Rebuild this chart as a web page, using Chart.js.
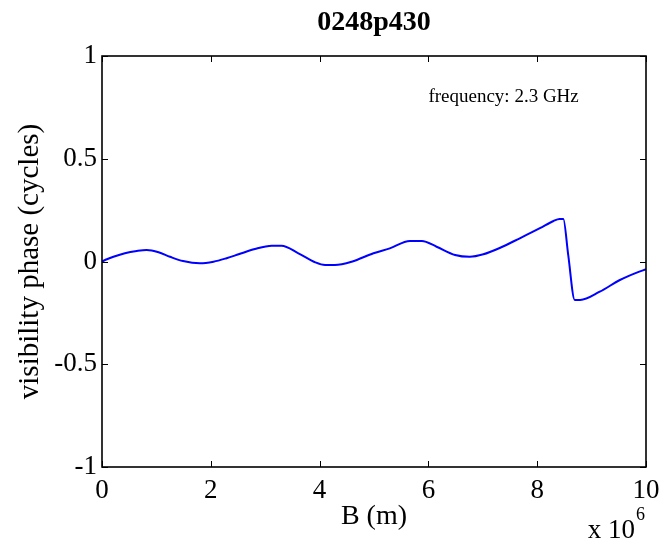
<!DOCTYPE html>
<html>
<head>
<meta charset="utf-8">
<script src="https://cdn.jsdelivr.net/npm/chart.js@4/dist/chart.umd.min.js"></script>
<style>
  html, body { margin: 0; padding: 0; background: #fff; }
  canvas { display: block; }
</style>
</head>
<body>
<canvas id="c" width="664" height="550"></canvas>
<script>
// Baseline length in units of 10^6 m
const baseline = [0, 0.09, 0.21, 0.42, 0.64, 0.82, 1.04, 1.25, 1.49, 1.80, 2.05, 2.29, 2.51, 2.81,
  3.12, 3.30, 3.61, 3.92, 4.10, 4.28, 4.59, 4.99, 5.29, 5.66, 5.88, 6.15, 6.49, 6.76, 7.01, 7.32,
  7.68, 8.05, 8.30, 8.41, 8.48, 8.57, 8.69, 8.79, 9.15, 9.52, 9.83, 10.0];
// Visibility phase in cycles
const phase = [0.000, 0.011, 0.023, 0.040, 0.051, 0.056, 0.045, 0.023, 0.002, -0.009, -0.001, 0.016,
  0.035, 0.061, 0.077, 0.077, 0.040, -0.004, -0.017, -0.017, -0.001, 0.040, 0.064, 0.100, 0.100,
  0.072, 0.032, 0.023, 0.035, 0.067, 0.113, 0.162, 0.197, 0.207, 0.207, 0.032, -0.187, -0.187,
  -0.147, -0.090, -0.054, -0.038];
const xTicks = [0, 2, 4, 6, 8, 10];
const yTicks = [-1, -0.5, 0, 0.5, 1];
const sourceName = '0248p430';
const freqNote = 'frequency: 2.3 GHz';
const notePos = [6, 0.8];

const SERIF = "'Liberation Serif', 'Times New Roman', serif";

const points = baseline.map((b, i) => ({ x: b, y: phase[i] }));

// Box frame, inward tick marks, annotation and exponent label
const framePlugin = {
  id: 'frame',
  afterDraw(chart) {
    const { ctx, chartArea: a, scales } = chart;
    const xs = scales.x, ys = scales.y;
    ctx.save();
    ctx.strokeStyle = '#000';
    ctx.lineWidth = 1;
    const tl = 6;
    ctx.beginPath();
    xTicks.forEach(v => {
      const px = Math.round(xs.getPixelForValue(v)) + 0.5;
      ctx.moveTo(px, a.bottom); ctx.lineTo(px, a.bottom - tl);
      ctx.moveTo(px, a.top); ctx.lineTo(px, a.top + tl);
    });
    yTicks.forEach(v => {
      const py = Math.round(ys.getPixelForValue(v)) + 0.5;
      ctx.moveTo(a.left, py); ctx.lineTo(a.left + tl, py);
      ctx.moveTo(a.right, py); ctx.lineTo(a.right - tl, py);
    });
    ctx.stroke();
    ctx.lineWidth = 1.6;
    ctx.strokeRect(a.left, a.top, a.right - a.left, a.bottom - a.top);

    ctx.fillStyle = '#000';
    ctx.font = '19px ' + SERIF;
    ctx.textAlign = 'left';
    ctx.textBaseline = 'middle';
    ctx.fillText(freqNote, xs.getPixelForValue(notePos[0]), ys.getPixelForValue(notePos[1]));

    ctx.textBaseline = 'alphabetic';
    ctx.textAlign = 'right';
    ctx.font = '27px ' + SERIF;
    ctx.fillText('x 10', a.right - 11, 538);
    ctx.textAlign = 'left';
    ctx.font = '18px ' + SERIF;
    ctx.fillText('6', a.right - 10, 520);
    ctx.restore();
  }
};

const plainNumber = v => String(v);

new Chart(document.getElementById('c'), {
  type: 'scatter',
  data: {
    datasets: [{
      data: points,
      showLine: true,
      borderColor: '#0000ff',
      borderWidth: 2,
      pointRadius: 0,
      cubicInterpolationMode: 'monotone',
      fill: false
    }]
  },
  options: {
    responsive: false,
    animation: false,
    devicePixelRatio: 1,
    layout: { padding: { left: 0, right: 18, top: 0, bottom: 0 } },
    plugins: {
      legend: { display: false },
      tooltip: { enabled: false },
      title: {
        display: true,
        text: sourceName,
        fullSize: false,
        color: '#000',
        font: { family: SERIF, size: 28, weight: 'bold', lineHeight: 1.2 },
        padding: { top: 6, bottom: 16.4 }
      }
    },
    scales: {
      x: {
        type: 'linear',
        min: 0, max: 10,
        afterBuildTicks(scale) { scale.ticks = xTicks.map(v => ({ value: v })); },
        afterFit(scale) { scale.height = 83; scale.paddingLeft = 0; scale.paddingRight = 0; },
        grid: { display: false, drawTicks: false },
        border: { display: false },
        ticks: { color: '#000', padding: 8, maxRotation: 0, callback: plainNumber,
                 font: { family: SERIF, size: 27 } },
        title: {
          display: true,
          text: 'B (m)',
          color: '#000',
          font: { family: SERIF, size: 28 },
          padding: { top: 0, bottom: 17 }
        }
      },
      y: {
        type: 'linear',
        min: -1, max: 1,
        afterBuildTicks(scale) { scale.ticks = yTicks.map(v => ({ value: v })); },
        afterFit(scale) { scale.width = 102; scale.paddingTop = 0; scale.paddingBottom = 0; },
        grid: { display: false, drawTicks: false },
        border: { display: false },
        ticks: { color: '#000', padding: 5, callback: plainNumber,
                 font: { family: SERIF, size: 27 } },
        title: {
          display: true,
          text: 'visibility phase (cycles)',
          color: '#000',
          font: { family: SERIF, size: 29 },
          padding: { top: 13, bottom: 0 }
        }
      }
    }
  },
  plugins: [framePlugin]
});
</script>
</body>
</html>
